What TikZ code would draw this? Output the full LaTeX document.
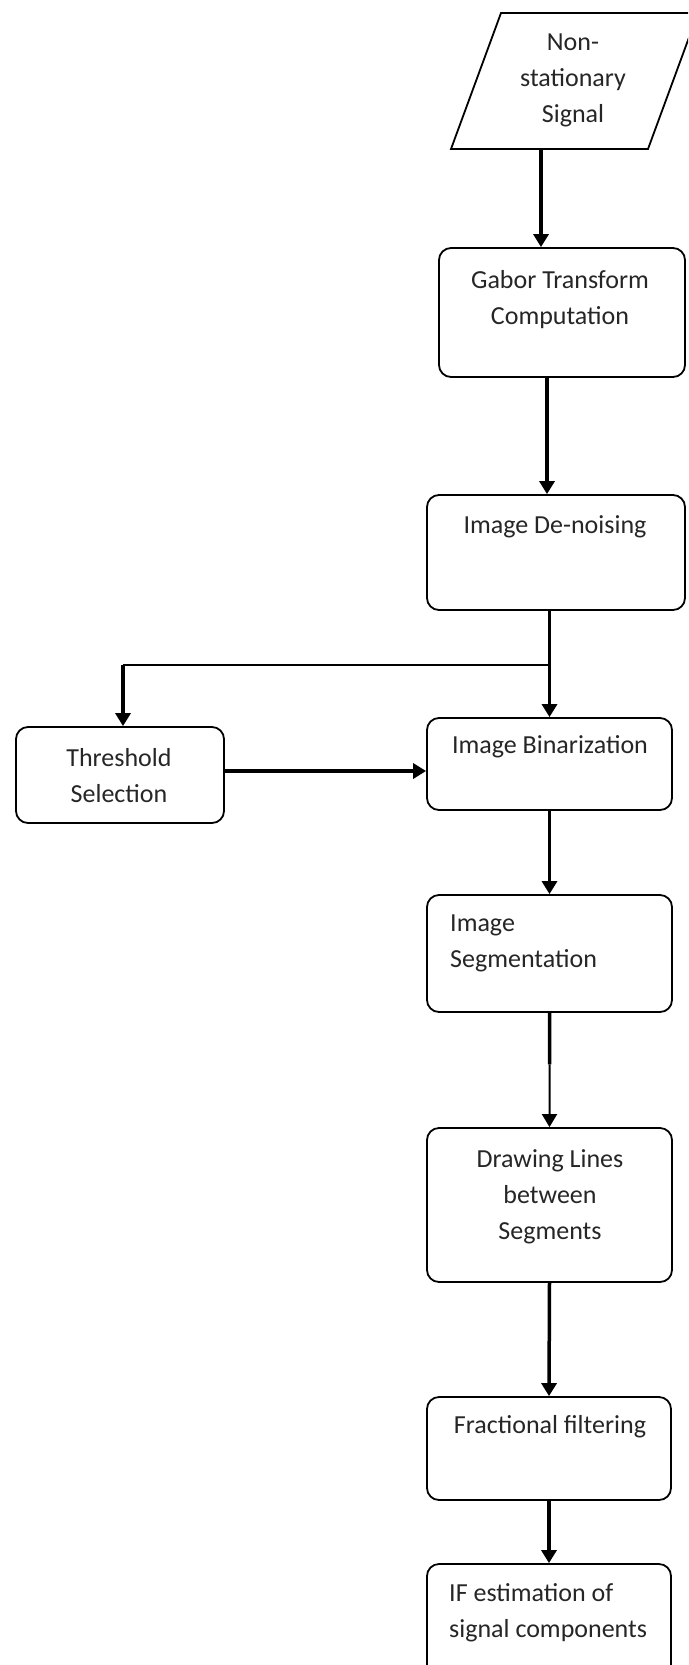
\documentclass[tikz,border=0pt]{standalone}
\usepackage{fontspec}
\setmainfont{Carlito}
\usetikzlibrary{arrows.meta,calc}
\begin{document}
\begin{tikzpicture}[x=1pt,y=-1pt,
  box/.style={draw,line width=1.8pt,rounded corners=12pt,inner sep=0pt,fill=white},
  txt/.style={font=\fontsize{26}{36}\selectfont,align=center,inner sep=0pt,text=black!85},
  arr/.style={line width=3.5pt,-{Triangle[length=13pt,width=15pt]}},
  arrthin/.style={line width=2pt,-{Triangle[length=13pt,width=15pt]}},
  thinline/.style={line width=2pt},
  thickline/.style={line width=3.5pt},
]
\clip (0,0) rectangle (688,1665);
\fill[white] (0,0) rectangle (688,1665);

% input parallelogram
\draw[line width=1.8pt,line join=miter] (501,13) -- (698,13) -- (648,149) -- (451,149) -- cycle;
\coordinate (sigb) at (541,149);
\node[txt] (sigtxt) at (573,80) {Non-\\stationary\\Signal};

% process boxes
\node[box,minimum width=246pt,minimum height=129pt] (gabor) at (562,312.5) {};
\node[txt] (gabortxt) at (560,300) {Gabor Transform\\Computation};

\node[box,minimum width=258pt,minimum height=115pt] (denoise) at (556,552.5) {};
\node[txt] (denoisetxt) at (555,527) {Image De-noising};

\node[box,minimum width=208pt,minimum height=96pt] (thresh) at (120,775) {};
\node[txt] (threshtxt) at (119,776) {Threshold\\Selection};

\node[box,minimum width=245pt,minimum height=92pt] (binar) at (549.5,764) {};
\node[txt] (binartxt) at (550,747) {Image Binarization};

\node[box,minimum width=245pt,minimum height=117pt] (seg) at (549.5,953.5) {};
\node[txt,align=left,anchor=west] (segtxt) at (450,943.5) {Image\\Segmentation};

\node[box,minimum width=245pt,minimum height=154pt] (drawl) at (549.5,1205) {};
\node[txt] (drawtxt) at (550,1197) {Drawing Lines\\between\\Segments};

\node[box,minimum width=244pt,minimum height=103pt] (frac) at (549,1448.5) {};
\node[txt] (fractxt) at (550,1427) {Fractional filtering};

\node[box,minimum width=244pt,minimum height=140pt] (ifest) at (549,1634) {};
\node[txt,align=left,anchor=west] (iftxt) at (449,1613) {IF estimation of\\signal components};

% connectors
\draw[arr] (sigb) -- (sigb |- gabor.north);
\draw[arr] ([xshift=-15pt]gabor.south) -- ([xshift=-15pt]gabor.south |- denoise.north);
\coordinate (br) at (binar.north |- 0,665);
\coordinate (bl) at (123,665);
\draw[arr] (binar.north |- denoise.south) -- (binar.north);
\draw[thinline] (br) -- (bl);
\draw[arr] (bl) -- (bl |- thresh.north);
\draw[arr] ([yshift=4pt]thresh.east) -- ([yshift=4pt]thresh.east -| binar.west);
\draw[arr] (binar.south) -- (seg.north);
\coordinate (segmid) at ($(seg.south)!0.45!(drawl.north)$);
\draw[thickline] (seg.south) -- (segmid);
\draw[arrthin] (segmid) -- (drawl.north);
\draw[arr] (drawl.south) -- (frac.north);
\draw[arr] (frac.south) -- (ifest.north);
\end{tikzpicture}
\end{document}
